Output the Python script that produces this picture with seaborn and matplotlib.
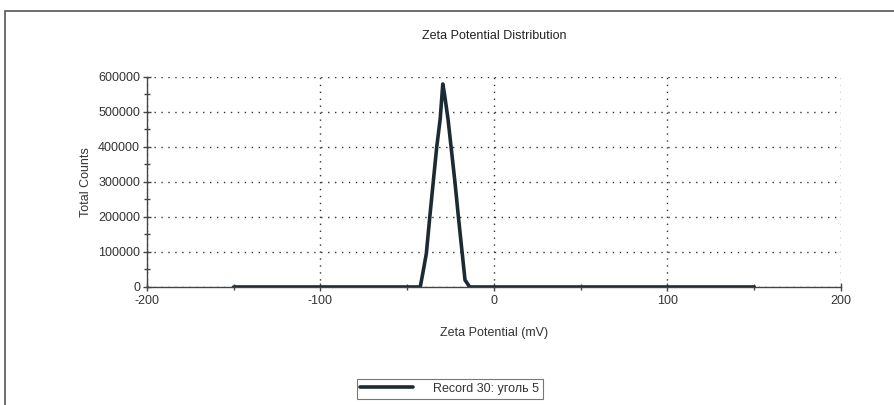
import matplotlib
matplotlib.use('Agg')
import matplotlib.pyplot as plt
from matplotlib.patches import Rectangle
from matplotlib.ticker import MultipleLocator
import seaborn as sns
import pandas as pd

# Zeta potential distribution
zeta_mv = [-150, -42.5, -41, -39, -37, -35, -33, -31, -29.5, -28.5,
           -26.5, -24.5, -22.5, -20.5, -18.5, -16.7, -14, 150]
total_counts = [0, 0, 40000, 95000, 200000, 300000, 400000, 480000, 580000, 550000,
                480000, 390000, 300000, 200000, 105000, 20000, 0, 0]
record_label = 'Record 30: уголь 5'

df = pd.DataFrame({'zeta': zeta_mv, 'counts': total_counts})

sns.set_style('white')
plt.rcParams['font.family'] = ['Liberation Sans', 'DejaVu Sans']
plt.rcParams['axes.unicode_minus'] = False

fig = plt.figure(figsize=(8.94, 4.05), dpi=100)
ax = fig.add_axes([0.1644, 0.2914, 0.7763, 0.5185])

sns.lineplot(data=df, x='zeta', y='counts', ax=ax, color='#1c2a33',
             linewidth=2.6, label=record_label, legend=False)

ax.set_xlim(-200, 200)
ax.set_ylim(0, 600000)
ax.xaxis.set_major_locator(MultipleLocator(100))
ax.xaxis.set_minor_locator(MultipleLocator(50))
ax.yaxis.set_major_locator(MultipleLocator(100000))
ax.yaxis.set_minor_locator(MultipleLocator(50000))
ax.grid(True, which='major', linestyle=(0, (1, 4)), color='#333333', linewidth=1.0)
for s in ['top', 'right']:
    ax.spines[s].set_visible(False)
for s in ['left', 'bottom']:
    ax.spines[s].set_color('#444444')
    ax.spines[s].set_linewidth(1.0)
ax.tick_params(which='both', bottom=True, left=True, top=False, right=False)
ax.tick_params(which='major', direction='inout', length=6, width=1, color='#444444',
               labelsize=9, labelcolor='#333333', pad=2)
ax.tick_params(which='minor', direction='inout', length=4, width=1, color='#444444')
ax.tick_params(axis='x', pad=3)

ax.set_title('Zeta Potential Distribution', fontsize=9, color='#222222', pad=27)
ax.set_xlabel('Zeta Potential (mV)', fontsize=9, color='#333333', labelpad=14)
ax.set_ylabel('Total Counts', fontsize=9, color='#333333', labelpad=4)

handles, labels = ax.get_legend_handles_labels()
if not handles:
    handles = [ax.lines[0]]
    labels = [record_label]
leg = fig.legend(handles, labels, loc='center', bbox_to_anchor=(0.503, 0.04),
                 fontsize=9, frameon=True, fancybox=False, edgecolor='#555555',
                 handlelength=4.2, borderpad=0.3, handletextpad=1.6)
leg.get_frame().set_linewidth(0.8)
for t in leg.get_texts():
    t.set_color('#333333')

# outer frame of the report
fig.add_artist(Rectangle((5 / 894, -0.1), 1.2, 1.1 - 11 / 405,
                         transform=fig.transFigure, fill=False,
                         edgecolor='#555555', linewidth=1.2))

fig.savefig('out.png', dpi=100)
